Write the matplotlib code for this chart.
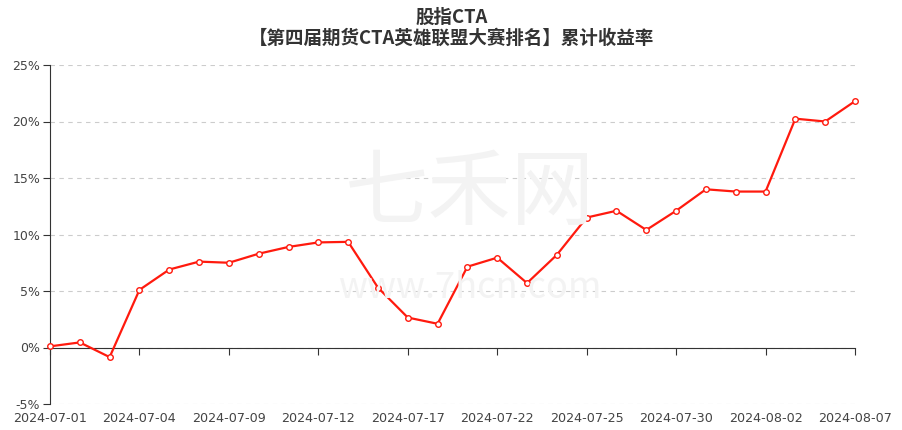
import matplotlib.pyplot as plt
from matplotlib.ticker import FuncFormatter, MultipleLocator

plt.rcParams['font.family'] = ['Noto Sans CJK SC', 'DejaVu Sans']

# trading days and cumulative return (%)
dates = ['2024-07-01', '2024-07-02', '2024-07-03', '2024-07-04', '2024-07-05',
         '2024-07-08', '2024-07-09', '2024-07-10', '2024-07-11', '2024-07-12',
         '2024-07-15', '2024-07-16', '2024-07-17', '2024-07-18', '2024-07-19',
         '2024-07-22', '2024-07-23', '2024-07-24', '2024-07-25', '2024-07-26',
         '2024-07-29', '2024-07-30', '2024-07-31', '2024-08-01', '2024-08-02',
         '2024-08-05', '2024-08-06', '2024-08-07']
returns = [0.1, 0.45, -0.85, 5.1, 6.9, 7.6, 7.5, 8.3, 8.9, 9.3,
           9.35, 5.3, 2.65, 2.1, 7.15, 7.95, 5.7, 8.2, 11.5, 12.1,
           10.4, 12.1, 14.0, 13.8, 13.8, 20.25, 20.0, 21.8]
label_every = 3

fig = plt.figure(figsize=(9.03, 4.3), dpi=100)
ax = fig.add_axes([50 / 903, 26 / 430, 805 / 903, 339 / 430])

x = list(range(len(dates)))

# faint watermark
fig.text(0.52, 0.55, '七禾网', fontsize=60, color='#f3f3f3', ha='center',
         va='center', zorder=0)
fig.text(0.52, 0.33, 'www.7hcn.com', fontsize=26, color='#f3f3f3',
         ha='center', va='center', zorder=0)

ax.plot(x, returns, color='#ff1a0e', lw=1.6, marker='o', markersize=4,
        markerfacecolor='white', markeredgecolor='#ff1a0e',
        markeredgewidth=1, zorder=3, clip_on=False)

ax.set_xlim(0, len(dates) - 1)
ax.set_ylim(-5, 25)
ax.yaxis.set_major_locator(MultipleLocator(5))
ax.yaxis.set_major_formatter(FuncFormatter(lambda v, p: '%d%%' % v))
ax.grid(axis='y', linestyle=(0, (4, 4)), color='#cccccc', lw=0.8)
ax.set_axisbelow(True)

for s in ['top', 'right']:
    ax.spines[s].set_visible(False)
ax.spines['bottom'].set_position(('data', 0))
ax.spines['bottom'].set_color('#333333')
ax.spines['left'].set_color('#333333')

ticks = x[::label_every]
ax.set_xticks(ticks)
ax.set_xticklabels([])
ax.tick_params(axis='x', direction='out', length=5, color='#333333')
ax.tick_params(axis='y', length=5, color='#333333', labelsize=9,
               labelcolor='#444444', pad=2)
for lab in ax.get_yticklabels():
    lab.set_fontfamily('DejaVu Sans')

# date labels sit under the plot area, not under the zero line
for t in ticks:
    ax.text(t, -5.75, dates[t], ha='center', va='top', fontsize=9.2,
            color='#444444', family='DejaVu Sans')

fig.text(0.5, 0.960, '股指CTA', ha='center', va='center', fontsize=13.3,
         fontweight='bold', color='#333333')
fig.text(0.5, 0.910, '【第四届期货CTA英雄联盟大赛排名】累计收益率', ha='center',
         va='center', fontsize=13.3, fontweight='bold', color='#333333')

fig.savefig('out.png', dpi=100)
